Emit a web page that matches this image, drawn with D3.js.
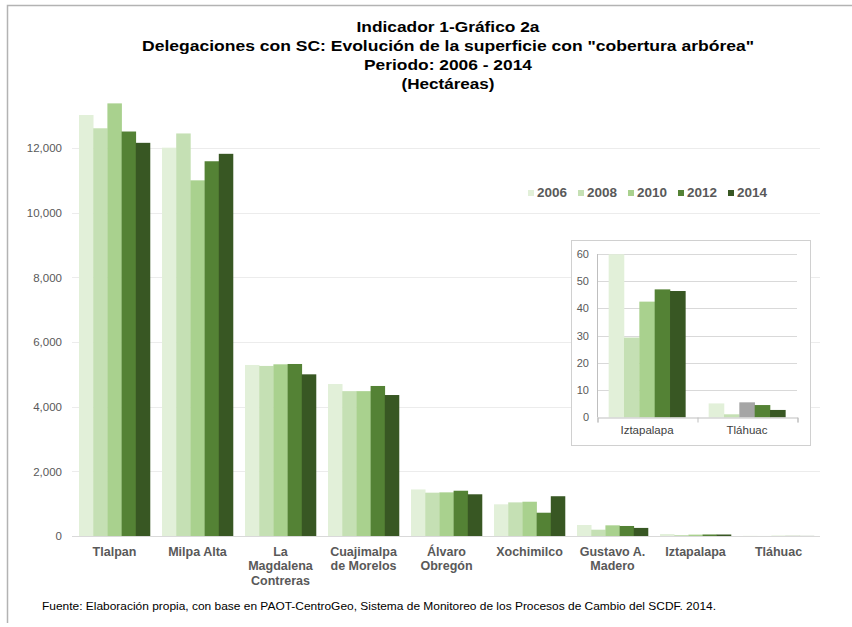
<!DOCTYPE html>
<html>
<head>
<meta charset="utf-8">
<script src="https://cdn.jsdelivr.net/npm/d3@7/dist/d3.min.js"></script>
<style>
  body { margin: 0; background: #ffffff; }
  svg { display: block; font-family: "Liberation Sans", Arial, sans-serif; }
</style>
</head>
<body>
<svg id="CHART" width="852" height="627"></svg>
<script>
// Data (hectáreas)
var years = ["2006", "2008", "2010", "2012", "2014"];
var delegaciones = ["Tlalpan", "Milpa Alta", "La\nMagdalena\nContreras", "Cuajimalpa\nde Morelos",
  "Álvaro\nObregón", "Xochimilco", "Gustavo A.\nMadero", "Iztapalapa", "Tláhuac"];
var sup2006 = [13020, 12010, 5290, 4700, 1440, 980, 340, 59.9, 5.1];
var sup2008 = [12610, 12450, 5260, 4480, 1340, 1040, 195, 29.3, 1.1];
var sup2010 = [13380, 11000, 5310, 4480, 1350, 1060, 330, 42.5, 5.5];
var sup2012 = [12510, 11590, 5320, 4640, 1400, 720, 310, 47.0, 4.5];
var sup2014 = [12160, 11820, 5000, 4360, 1290, 1230, 250, 46.4, 2.7];
var yTicks = [0, 2000, 4000, 6000, 8000, 10000, 12000];

// Inset: the two smallest delegaciones
var insetCats = ["Iztapalapa", "Tláhuac"];
var insetTicks = [0, 10, 20, 30, 40, 50, 60];

var titleLines = [
  "Indicador 1-Gráfico 2a",
  "Delegaciones con SC: Evolución de la superficie con \"cobertura arbórea\"",
  "Periodo: 2006 - 2014",
  "(Hectáreas)"
];
var fuente = "Fuente: Elaboración propia, con base en PAOT-CentroGeo, Sistema de Monitoreo de los Procesos de Cambio del SCDF. 2014.";

// Styles
var yearColors = ["#e2f0d9", "#c5e0b4", "#a9d18e", "#548235", "#385723"];
var grayBar = "#a5a5a5";
var textGray = "#595959";

let d3 = window.d3;
let svg = d3.select("#CHART");

var series = [sup2006, sup2008, sup2010, sup2012, sup2014];
var rows = delegaciones.map((name, i) => ({
  name: name,
  values: years.map((y, j) => ({ year: y, j: j, value: series[j][i] }))
}));

// Outer frame (left + top only, like the screenshot)
svg.append("path")
  .attr("d", "M7.5,623 L7.5,5.5 L852,5.5")
  .attr("fill", "none")
  .attr("stroke", "#b3b3b3")
  .attr("stroke-width", 1.5);

// Title
var titleWidths = [183, 612, 168, 93];
var titleY = [31.5, 50.5, 69.5, 88.5];
svg.append("g").selectAll("text")
  .data(titleLines)
  .enter()
  .append("text")
  .attr("x", 448)
  .attr("y", (d, i) => titleY[i])
  .attr("text-anchor", "middle")
  .attr("font-size", 15.5)
  .attr("font-weight", "bold")
  .attr("fill", "#000")
  .attr("textLength", (d, i) => titleWidths[i])
  .attr("lengthAdjust", "spacingAndGlyphs")
  .text(d => d);

// ---------- main chart ----------
var x0 = d3.scaleBand()
  .domain(delegaciones)
  .range([73, 820])
  .paddingInner(0.145)
  .paddingOuter(0.0725);

var x1 = d3.scaleBand()
  .domain(years)
  .range([0, x0.bandwidth()]);

var yScale = d3.scaleLinear()
  .domain([0, 12000])
  .range([536, 148]);

// gridlines
var main = svg.append("g").attr("class", "main");
main.append("g").selectAll("line")
  .data(yTicks)
  .enter()
  .append("line")
  .attr("x1", 72)
  .attr("x2", 820)
  .attr("y1", d => Math.round(yScale(d)) + 0.5)
  .attr("y2", d => Math.round(yScale(d)) + 0.5)
  .attr("stroke", d => d === 0 ? "#d9d9d9" : "#ececec")
  .attr("stroke-width", 1);

// y axis labels (axis with no line / ticks)
let yAxis = d3.axisLeft(yScale)
  .tickValues(yTicks)
  .tickFormat(d3.format(","))
  .tickSize(0)
  .tickPadding(0);
main.append("g")
  .attr("transform", "translate(62,0)")
  .call(yAxis)
  .call(g => g.select(".domain").remove())
  .selectAll("text")
  .attr("font-family", "Liberation Sans, Arial, sans-serif")
  .attr("font-size", 11.5)
  .attr("fill", textGray);

// bars
main.append("g").selectAll("g")
  .data(rows)
  .enter()
  .append("g")
  .attr("transform", d => "translate(" + x0(d.name) + ",0)")
  .selectAll("rect")
  .data(d => d.values)
  .enter()
  .append("rect")
  .attr("x", d => x1(d.year))
  .attr("width", x1.bandwidth() + 0.3)
  .attr("y", d => yScale(d.value))
  .attr("height", d => yScale(0) - yScale(d.value))
  .attr("fill", d => yearColors[d.j]);

// category labels (multi line)
let catLabels = main.append("g").selectAll("text")
  .data(delegaciones)
  .enter()
  .append("text")
  .attr("x", d => x0(d) + x0.bandwidth() / 2)
  .attr("y", 555.5)
  .attr("text-anchor", "middle")
  .attr("font-size", 12.5)
  .attr("font-weight", "bold")
  .attr("fill", textGray);
catLabels.selectAll("tspan")
  .data(d => d.split("\n"))
  .enter()
  .append("tspan")
  .attr("x", function () { return this.parentNode.getAttribute("x"); })
  .attr("dy", (d, i) => i === 0 ? 0 : 14.5)
  .text(d => d);

// legend
var legend = main.append("g").selectAll("g")
  .data(years)
  .enter()
  .append("g")
  .attr("transform", (d, i) => "translate(" + (528 + i * 50) + ",0)");
legend.append("rect")
  .attr("x", 0)
  .attr("y", 190)
  .attr("width", 6)
  .attr("height", 6)
  .attr("fill", (d, i) => yearColors[i]);
legend.append("text")
  .attr("x", 9)
  .attr("y", 197)
  .attr("font-size", 13.5)
  .attr("font-weight", "bold")
  .attr("fill", textGray)
  .text(d => d);

// ---------- inset ----------
var inset = svg.append("g").attr("class", "inset");
inset.append("rect")
  .attr("x", 571.5)
  .attr("y", 240.5)
  .attr("width", 239)
  .attr("height", 205)
  .attr("fill", "#ffffff")
  .attr("stroke", "#d0d0d0");

var ix0 = d3.scaleBand()
  .domain(insetCats)
  .range([597, 797])
  .paddingInner(0.233)
  .paddingOuter(0.1165);
var ix1 = d3.scaleBand()
  .domain(years)
  .range([0, ix0.bandwidth()]);
var iy = d3.scaleLinear()
  .domain([0, 60])
  .range([417.3, 254]);

inset.append("g").selectAll("line")
  .data(insetTicks.slice(1))
  .enter()
  .append("line")
  .attr("x1", 597)
  .attr("x2", 797)
  .attr("y1", d => Math.round(iy(d)) + 0.5)
  .attr("y2", d => Math.round(iy(d)) + 0.5)
  .attr("stroke", "#d9d9d9");

let iyAxis = d3.axisLeft(iy)
  .tickValues(insetTicks)
  .tickSize(0)
  .tickPadding(0);
inset.append("g")
  .attr("transform", "translate(589,0)")
  .call(iyAxis)
  .call(g => g.select(".domain").remove())
  .selectAll("text")
  .attr("font-family", "Liberation Sans, Arial, sans-serif")
  .attr("font-size", 11)
  .attr("fill", textGray);

var insetRows = rows.filter(r => insetCats.indexOf(r.name) >= 0);
inset.append("g").selectAll("g")
  .data(insetRows)
  .enter()
  .append("g")
  .attr("transform", d => "translate(" + ix0(d.name) + ",0)")
  .each(function (row, ci) {
    d3.select(this).selectAll("rect")
      .data(row.values)
      .enter()
      .append("rect")
      .attr("x", d => ix1(d.year))
      .attr("width", ix1.bandwidth() + 0.3)
      .attr("y", d => iy(d.value))
      .attr("height", d => iy(0) - iy(d.value))
      .attr("fill", d => (ci === 1 && d.j === 2) ? grayBar : yearColors[d.j]);
  });

// inset axes lines
inset.append("line")
  .attr("x1", 597.5).attr("x2", 597.5)
  .attr("y1", 254).attr("y2", 417.5)
  .attr("stroke", "#bfbfbf");
let ixAxis = d3.axisBottom(d3.scalePoint().domain([0, 1, 2]).range([597, 797]))
  .tickSize(5)
  .tickFormat("");
inset.append("g")
  .attr("transform", "translate(0.5,417.5)")
  .call(ixAxis)
  .call(g => g.selectAll("path, line").attr("stroke", "#bfbfbf"));

inset.append("g").selectAll("text")
  .data(insetCats)
  .enter()
  .append("text")
  .attr("x", d => ix0(d) + ix0.bandwidth() / 2)
  .attr("y", 434)
  .attr("text-anchor", "middle")
  .attr("font-size", 11.5)
  .attr("fill", "#404040")
  .text(d => d);

// Footer
svg.append("text")
  .attr("x", 42)
  .attr("y", 610)
  .attr("font-size", 11.5)
  .attr("fill", "#000")
  .attr("textLength", 674)
  .attr("lengthAdjust", "spacingAndGlyphs")
  .text(fuente);
</script>
</body>
</html>
